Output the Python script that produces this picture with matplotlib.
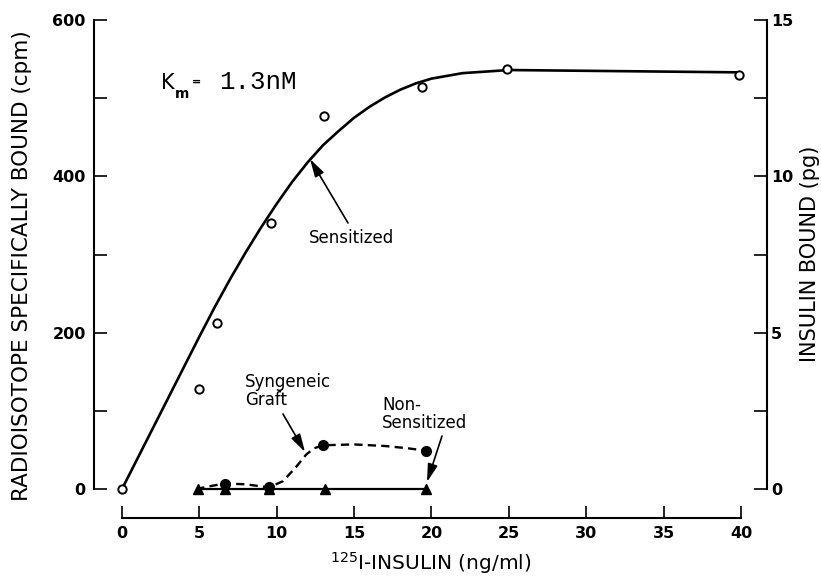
import numpy as np
import matplotlib
matplotlib.use("Agg")
import matplotlib.pyplot as plt

plt.rcParams['font.family'] = ['DejaVu Sans']

W, H = 821, 579

# measured points
sens_x = [0, 5.0, 6.15, 9.65, 13.05, 19.4, 24.9, 39.9]
sens_y = [0, 128, 213, 340, 477, 514, 537, 529]

# sensitized fitted curve
curve_x = [0, 1, 2, 3, 4, 5, 6, 7, 8, 9, 10, 11, 12, 13, 14, 15, 16, 17, 18, 19, 20, 22, 25, 30, 35, 40]
curve_y = [0, 39, 78, 117, 156, 195, 233, 269, 303, 335, 365, 393, 418, 440, 458, 475, 489, 501,
           511, 519, 525, 532, 536, 535, 534, 533]

# syngeneic graft
syn_x = [6.66, 9.5, 13.0, 19.64]
syn_y = [7, 2, 56, 49]
syn_line_x = [4.8, 5.8, 6.66, 8.0, 9.5, 10.4, 11.2, 11.9, 12.4, 13.0, 15.0, 17.0, 18.5, 19.64]
syn_line_y = [0, 4, 7, 6, 2, 10, 27, 44, 52, 56, 57, 55, 52, 49]

# non-sensitized
non_x = [4.9, 6.66, 9.5, 13.1, 19.64]
non_y = [0, 0, 0, 0, 0]

x_ticks = [0, 5, 10, 15, 20, 25, 30, 35, 40]
left_major = [0, 200, 400, 600]
left_minor = [100, 300, 500]
right_major = [0, 5, 10, 15]
right_minor = [2.5, 7.5, 12.5]


def px(x, y):
    return x / W, 1 - y / H


def to_data(xp, yp):
    return (xp - 122) / 15.475, (489 - yp) / 0.78167


fig = plt.figure(figsize=(W / 100, H / 100), dpi=100)
ax = fig.add_axes([94 / W, 1 - 518 / H, (767 - 94) / W, (518 - 20) / H])
x0, _ = to_data(94, 0)
x1, _ = to_data(767, 0)
_, y0 = to_data(0, 518)
ax.set_xlim(x0, x1)
ax.set_ylim(y0, 600)

ax.plot(curve_x, curve_y, color='black', lw=1.9, solid_capstyle='round', zorder=2)
ax.plot(sens_x, sens_y, 'o', ms=6, mfc='white', mec='black', mew=1.4, zorder=3)

ax.plot(syn_line_x, syn_line_y, color='black', lw=1.7, dashes=(3.5, 2.2), zorder=2)
ax.plot(non_x, non_y, color='black', lw=1.6, zorder=2)
ax.plot(non_x, non_y, '^', ms=7.5, color='black', zorder=3)
ax.plot(syn_x, syn_y, 'o', ms=7, color='black', zorder=4)

ax.spines['top'].set_visible(False)
ax.spines['right'].set_visible(False)
for s in ['left', 'bottom']:
    ax.spines[s].set_linewidth(1.5)
ax.spines['left'].set_bounds(0, 600)
ax.spines['bottom'].set_bounds(0, 40)

ax.set_xticks(x_ticks)
ax.set_yticks(left_major)
ax.set_yticks(left_minor, minor=True)
ax.tick_params(axis='y', which='both', direction='in', length=9.5, width=1.2, pad=6, labelsize=11.5)
ax.tick_params(axis='x', which='both', direction='in', length=8.5, width=1.2, pad=6, labelsize=11.5)
for lab in ax.get_xticklabels() + ax.get_yticklabels():
    lab.set_fontweight('bold')

ax2 = ax.twinx()
ax2.set_position(ax.get_position())
ax2.set_ylim(y0 / 40, 15)
for s in ['top', 'left', 'bottom']:
    ax2.spines[s].set_visible(False)
ax2.spines['right'].set_linewidth(1.5)
ax2.spines['right'].set_bounds(0, 15)
ax2.set_yticks(right_major)
ax2.set_yticks(right_minor, minor=True)
ax2.tick_params(axis='y', which='both', direction='in', length=9.5, width=1.2, pad=3, labelsize=11.5)
for lab in ax2.get_yticklabels():
    lab.set_fontweight('bold')

# axis labels
fig.text(*px(22, 266), 'RADIOISOTOPE SPECIFICALLY BOUND (cpm)', rotation=90,
         ha='center', va='center', fontsize=15.5)
fig.text(*px(810, 254), 'INSULIN BOUND (pg)', rotation=90,
         ha='center', va='center', fontsize=15)
fig.text(*px(431, 563), '$\\mathregular{^{125}}$I-INSULIN (ng/ml)',
         ha='center', va='center', fontsize=14.5)

# Km note
fig.text(*px(161, 89), 'K', ha='left', va='baseline', fontsize=15)
fig.text(*px(175, 98), 'm', ha='left', va='baseline', fontsize=10, fontweight='bold')
fig.text(*px(192, 85), '=', ha='left', va='baseline', fontsize=8, fontweight='bold')
fig.text(*px(219, 89), '1.3nM', ha='left', va='baseline', fontsize=18.5,
         family=['Liberation Mono', 'DejaVu Sans Mono'])

arrow = dict(arrowstyle='-|>,head_length=0.9,head_width=0.25', color='black', lw=1.2,
             shrinkA=0, shrinkB=0, mutation_scale=12)

ax.text(*to_data(351, 238), 'Sensitized', ha='center', va='center', fontsize=12)
ax.annotate('', xy=to_data(310, 159), xytext=to_data(348, 223), arrowprops=arrow)

ax.text(*to_data(245, 391), 'Syngeneic\nGraft', ha='left', va='center', fontsize=12,
        linespacing=1.0)
ax.annotate('', xy=to_data(305, 452), xytext=to_data(283, 414), arrowprops=arrow)

ax.text(*to_data(382, 414), 'Non-\nSensitized', ha='left', va='center', fontsize=12,
        linespacing=1.0)
ax.annotate('', xy=to_data(427, 482), xytext=to_data(442, 436), arrowprops=arrow)

fig.savefig('out.png', dpi=100)
